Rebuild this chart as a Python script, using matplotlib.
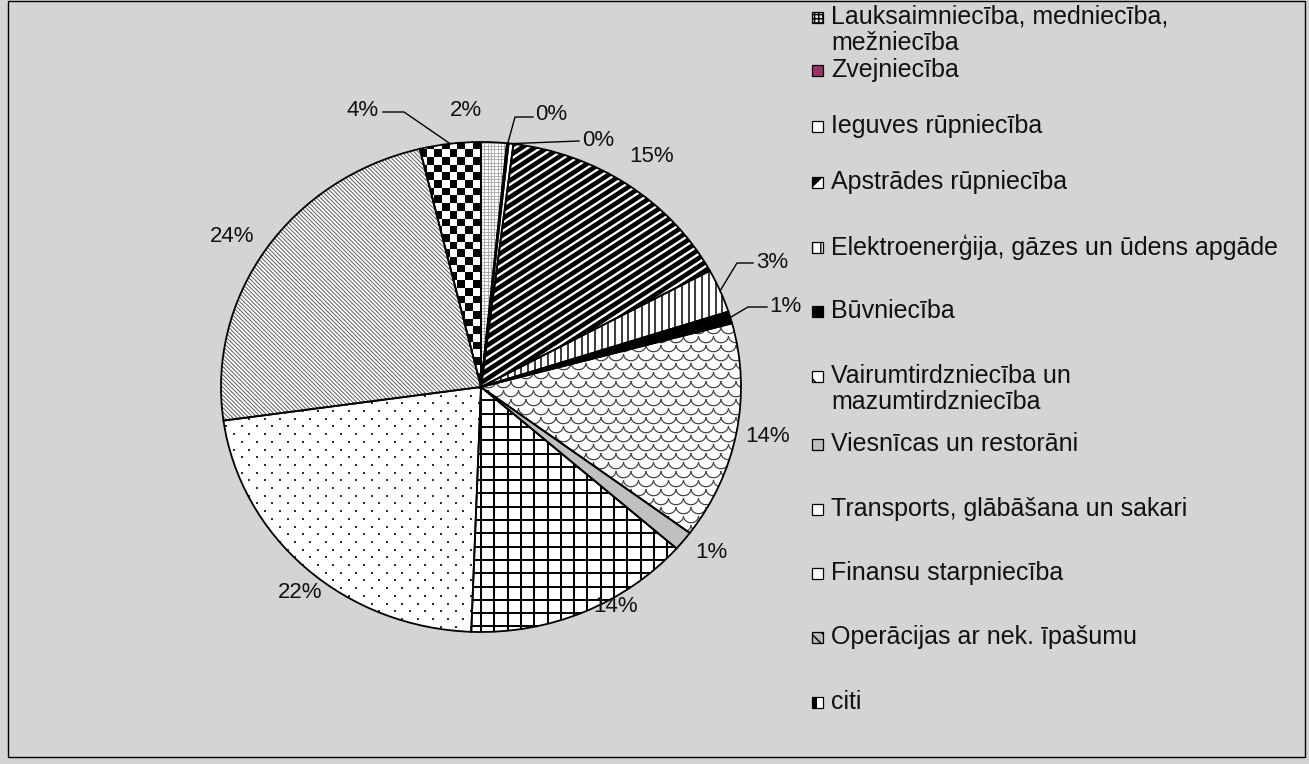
import numpy as np
import matplotlib
matplotlib.use("Agg")
import matplotlib.pyplot as plt
from matplotlib.transforms import IdentityTransform
from matplotlib.collections import LineCollection, PolyCollection
from matplotlib.patches import Rectangle

plt.rcParams['font.family'] = ['Liberation Sans', 'DejaVu Sans']

# nozares un to daļas (%)
nozares = ["Lauksaimniecība, medniecība,\nmežniecība", "Zvejniecība", "Ieguves rūpniecība",
           "Apstrādes rūpniecība", "Elektroenerģija, gāzes un ūdens apgāde", "Būvniecība",
           "Vairumtirdzniecība un\nmazumtirdzniecība", "Viesnīcas un restorāni",
           "Transports, glābāšana un sakari", "Finansu starpniecība",
           "Operācijas ar nek. īpašumu", "citi"]
dalas = [1.6, 0.1, 0.3, 15.2, 2.9, 0.8, 14.4, 1.3, 14.2, 22.3, 23.5, 3.8]
etiketes = ["2%", "0%", "0%", "15%", "3%", "1%", "14%", "1%", "14%", "22%", "24%", "4%"]

W, H = 1309, 764
cx, cy, rx, ry = 481, 387, 260, 245   # pie centre / radii in image pixels

fig = plt.figure(figsize=(W / 100, H / 100), dpi=100)
fig.patch.set_facecolor("#d4d4d4")
ax = fig.add_axes([(cx - rx) / W, (H - cy - ry) / H, 2 * rx / W, 2 * ry / H])

fills = ["white", "#993366", "white", "black", "white", "black",
         "white", "#c0c0c0", "white", "white", "white", "white"]
wedges, _ = ax.pie(dalas, startangle=90, counterclock=False, colors=fills,
                   wedgeprops=dict(edgecolor="none", linewidth=0))
ax.pie(dalas, startangle=90, counterclock=False,
       wedgeprops=dict(fill=False, edgecolor="black", linewidth=1.3, zorder=5))
ax.set_xlim(-1, 1)
ax.set_ylim(-1, 1)
ax.set_aspect("auto")
ax.axis("off")
for p in ax.patches:
    p.set_clip_on(False)

# pattern helpers, drawn in display pixels, clipped to the wedge
x0, x1 = cx - rx - 10, cx + rx + 10
y0, y1 = H - cy - ry - 10, H - cy + ry + 10
PT = 0.72


def stripes(w, ang, step, lw, color):
    a = np.deg2rad(ang)
    d = np.array([np.cos(a), np.sin(a)])
    n = np.array([-np.sin(a), np.cos(a)])
    c = np.array([cx, H - cy])
    segs = []
    for k in range(-120, 121):
        p = c + n * k * step
        segs.append([p - d * 400, p + d * 400])
    lc = LineCollection(segs, colors=color, linewidths=lw * PT, transform=IdentityTransform(), zorder=3)
    ax.add_collection(lc, autolim=False)
    lc.set_clip_path(w)


def dots(w, sx, sy, size, color):
    xs, ys = [], []
    for j, y in enumerate(np.arange(y0, y1, sy)):
        off = (j % 2) * sx / 2
        for x in np.arange(x0 + off, x1, sx):
            xs.append(x)
            ys.append(y)
    ln, = ax.plot(xs, ys, ls="none", marker="s", ms=size * PT, mew=0, color=color,
                  transform=IdentityTransform(), zorder=3)
    ln.set_clip_path(w)


def checker(w, s):
    verts = []
    for i, x in enumerate(np.arange(x0, x1, s)):
        for j, y in enumerate(np.arange(y0, y1, s)):
            if (i + j) % 2 == 0:
                verts.append([(x, y), (x + s, y), (x + s, y + s), (x, y + s)])
    pc = PolyCollection(verts, facecolors="black", edgecolors="none", transform=IdentityTransform(), zorder=3)
    ax.add_collection(pc, autolim=False)
    pc.set_clip_path(w)


def scales(w, sx, sy, color):
    t = np.linspace(np.pi, 2 * np.pi, 12)
    segs = []
    for j, y in enumerate(np.arange(y0, y1 + sy, sy)):
        off = (j % 2) * sx / 2
        for x in np.arange(x0 - sx + off, x1 + sx, sx):
            segs.append(np.column_stack([x + sx / 2 * np.cos(t), y + sx / 2 * 0.9 * np.sin(t)]))
    lc = LineCollection(segs, colors=color, linewidths=1.2 * PT, transform=IdentityTransform(), zorder=3)
    ax.add_collection(lc, autolim=False)
    lc.set_clip_path(w)


stripes(wedges[0], 0, 3.3, 0.8, "#a0a0a0")
stripes(wedges[0], 90, 3.3, 0.8, "#a0a0a0")
stripes(wedges[3], 33, 7.0, 2.3, "white")
stripes(wedges[4], 90, 6.7, 1.5, "black")
scales(wedges[6], 15, 9, "#404040")
stripes(wedges[8], 0, 13.3, 2.0, "black")
stripes(wedges[8], 90, 13.3, 2.0, "black")
dots(wedges[9], 15.3, 7.7, 2.0, "#303030")
stripes(wedges[10], -45, 2.9, 1.0, "#606060")
checker(wedges[11], 7.7)


def px(x, y):
    return (x - cx) / rx, (cy - y) / ry


# data labels (layout in image pixels) and leader lines
lab_pos = [(466, 110), (551, 115), (598, 141), (652, 157), (772, 263), (785, 306),
           (768, 437), (711, 553), (616, 607), (300, 592), (232, 236), (363, 110)]
elbows = {1: [(515, 117), (533, 117)], 2: [(579, 141)], 4: [(737, 263), (753, 263)],
          5: [(748, 307), (767, 307)], 11: [(404, 112), (383, 112)]}
for i, (lab, (lx, ly)) in enumerate(zip(etiketes, lab_pos)):
    ax.text(*px(lx, ly), lab, ha="center", va="center", fontsize=16, color="#111111", zorder=6)
    if i in elbows:
        w = wedges[i]
        th = np.deg2rad((w.theta1 + w.theta2) / 2)
        pts = [(np.cos(th), np.sin(th))] + [px(*e) for e in elbows[i]]
        xs, ys = zip(*pts)
        ax.plot(xs, ys, color="black", lw=1.0, clip_on=False, zorder=6)

# legend, drawn by hand like the Excel one
leg_y = [17, 70, 126, 182, 247, 311, 376, 444, 509, 573, 637, 702]
leg_face = ["#e0e0e0", "#993366", "white", "white", "white", "black",
            "white", "#c0c0c0", "white", "white", "#bbbbbb", "white"]
leg_hatch = ["++++", None, None, None, "||", None, "\\", None, None, None, "\\\\\\", None]
LINE = 26
for i, (name, ly) in enumerate(zip(nozares, leg_y)):
    mb = (H - ly - 6) / H
    fig.patches.append(Rectangle((812 / W, mb), 11 / W, 11 / H, transform=fig.transFigure,
                                 facecolor=leg_face[i], edgecolor="black", linewidth=0.9,
                                 hatch=leg_hatch[i]))
    if i == 3:
        fig.patches.append(plt.Polygon([(812 / W, mb), (823 / W, mb + 11 / H), (812 / W, mb + 11 / H)],
                                       closed=True, transform=fig.transFigure, facecolor="black"))
    if i == 11:
        fig.patches.append(Rectangle((812 / W, mb), 5 / W, 11 / H,
                                     transform=fig.transFigure, facecolor="black"))
    nl = name.count("\n")
    fig.text(831 / W, (H - ly - LINE * nl / 2) / H, name, ha="left", va="center",
             fontsize=18, color="#111111", linespacing=1.12)

# chart frame
fig.patches.append(Rectangle((8 / W, 7 / H), 1297 / W, 756 / H, transform=fig.transFigure,
                             fill=False, edgecolor="black", linewidth=1.0))

fig.savefig("out.png", dpi=100, facecolor=fig.get_facecolor())
